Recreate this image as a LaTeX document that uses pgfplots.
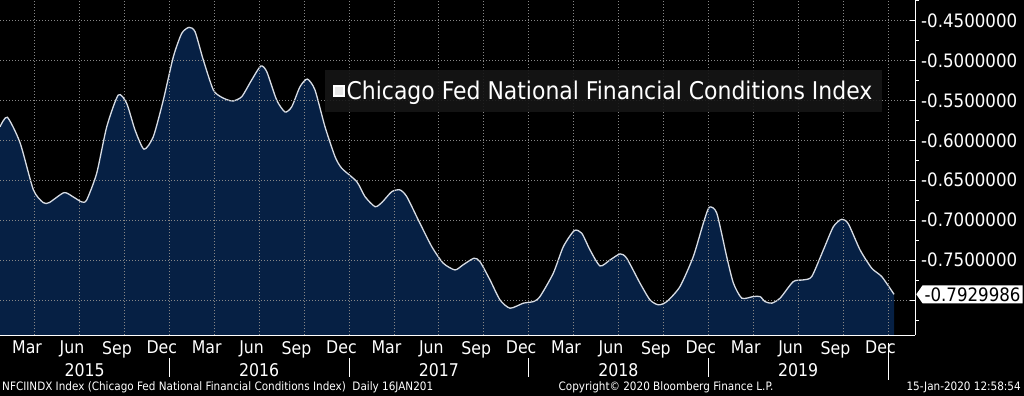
\documentclass[border=0pt]{standalone}
\usepackage{fontspec}
\usepackage{pgfplots}
\usepackage{pgfplotstable}
\pgfplotsset{compat=1.18}
\usetikzlibrary{shapes.symbols}
\newfontfamily\cond{DejaVu Sans Condensed}
\newcommand\tickfont{\cond\fontsize{17.5bp}{20bp}\selectfont}
\newcommand\ytickfont{\cond\fontsize{18.5bp}{21bp}\selectfont}
\newcommand\legfont{\cond\fontsize{24.4bp}{28bp}\selectfont}
\newcommand\footfont{\cond\fontsize{11.6bp}{13bp}\selectfont}
\definecolor{navy}{RGB}{6,32,68}
\definecolor{curve}{RGB}{215,220,228}
\definecolor{gridc}{RGB}{135,135,135}
\definecolor{legbg}{RGB}{22,22,22}
\pgfplotstableread{
x y
0.69 -0.583
1.18 -0.571
2.03 -0.603
2.92 -0.662
3.58 -0.678
3.98 -0.678
4.97 -0.6655
5.59 -0.671
6.15 -0.6772
6.48 -0.6747
7.15 -0.6412
7.82 -0.583
8.59 -0.5431
9.15 -0.5535
9.71 -0.587
10.31 -0.6111
10.93 -0.5954
11.60 -0.5494
12.27 -0.4951
12.83 -0.4658
13.32 -0.4583
13.72 -0.4638
14.27 -0.4992
14.94 -0.5368
15.50 -0.546
16.05 -0.5502
16.28 -0.5506
16.84 -0.5452
17.50 -0.5243
18.11 -0.5068
18.51 -0.5139
19.17 -0.5494
19.73 -0.5644
20.18 -0.5578
20.73 -0.5327
21.22 -0.5231
21.73 -0.5368
22.40 -0.583
23.07 -0.6204
23.52 -0.635
24.52 -0.6517
25.07 -0.6705
25.74 -0.6831
26.19 -0.678
26.86 -0.6643
27.41 -0.6621
27.86 -0.6705
28.63 -0.6997
29.53 -0.7332
30.30 -0.754
31.08 -0.7624
31.62 -0.7561
32.35 -0.7477
32.75 -0.752
33.42 -0.7749
34.09 -0.800
34.76 -0.8104
35.65 -0.8041
36.32 -0.8021
36.76 -0.7958
37.65 -0.7665
38.32 -0.7332
39.05 -0.7131
39.55 -0.7164
40.10 -0.7373
40.77 -0.7574
41.44 -0.7499
42.11 -0.7423
42.55 -0.7477
43.44 -0.779
44.11 -0.800
44.67 -0.8062
45.23 -0.8021
46.11 -0.7833
47.00 -0.7457
47.67 -0.7039
48.07 -0.6838
48.57 -0.6913
49.23 -0.7457
49.68 -0.779
50.24 -0.7978
51.01 -0.7958
51.46 -0.7958
51.79 -0.8021
52.24 -0.8041
52.80 -0.7978
53.68 -0.777
54.35 -0.7749
54.91 -0.7708
55.69 -0.7373
56.36 -0.7081
56.92 -0.6989
57.36 -0.7047
58.14 -0.7373
58.92 -0.7603
59.59 -0.7708
60.41 -0.793
}\nfci
\begin{document}
\begin{tikzpicture}
\path[use as bounding box] (0,-61bp) rectangle (1024bp,335bp);
\fill[black] (0,-61bp) rectangle (1024bp,335bp);
\begin{axis}[
  at={(0,0)}, anchor=south west,
  scale only axis, width=915bp, height=335bp,
  xmin=0.69, xmax=61.81, ymin=-0.844, ymax=-0.424,
  axis x line*=bottom, axis y line*=right,
  axis line style={white, line width=0.8bp},
  ticklabel style={text=white, font=\tickfont},
  xtick={2.5,5.5,8.5,11.5,14.5,17.5,20.5,23.5,26.5,29.5,32.5,35.5,38.5,41.5,44.5,47.5,50.5,53.5,56.5,59.5},
  xticklabels={Mar,Jun,Sep,Dec,Mar,Jun,Sep,Dec,Mar,Jun,Sep,Dec,Mar,Jun,Sep,Dec,Mar,Jun,Sep,Dec},
  xtick style={draw=none},
  xticklabel style={anchor=north, inner sep=0pt, yshift=-6bp},
  minor xtick={1,2,...,61},
  minor x tick style={white, line width=0.6bp},
  minor tick length=3bp,
  extra x ticks={3,6,9,12,15,18,21,24,27,30,33,36,39,42,45,48,51,54,57,60},
  extra x tick labels={},
  extra x tick style={grid=major, major tick length=0pt},
  ytick={-0.80,-0.75,-0.70,-0.65,-0.60,-0.55,-0.50,-0.45},
  yticklabels={{},-0.7500000,-0.7000000,-0.6500000,-0.6000000,-0.5500000,-0.5000000,-0.4500000},
  yticklabel style={anchor=west, inner sep=0pt, xshift=6bp, font=\ytickfont},
  ytick style={white, line width=0.8bp},
  major tick length=5bp,
  minor ytick={-0.825,-0.775,-0.725,-0.675,-0.625,-0.575,-0.525,-0.475,-0.425},
  minor y tick style={white, line width=0.6bp, xshift=4bp},
  ymajorgrids=true,
  major grid style={gridc, line width=0.6bp, dash pattern=on 1bp off 2bp},
  axis on top,
  clip=false,
  legend style={at={(axis description cs:0.660,0.728)}, anchor=center,
    fill=legbg, fill opacity=0.9, text opacity=1, draw=none, text=white,
    font=\legfont, inner xsep=8bp, inner ysep=9bp},
  legend image code/.code={\fill[white] (0bp,-5bp) rectangle (10bp,5bp);},
]
\addplot[draw=none, fill=navy, smooth, tension=0.4, forget plot] table[x=x,y=y] {\nfci} -- (axis cs:60.41,-0.844) -- (axis cs:0.69,-0.844) -- cycle;
\addplot[curve, line width=1.3bp, smooth, tension=0.4] table[x=x,y=y] {\nfci};
\addlegendentry{Chicago Fed National Financial Conditions Index}
% year labels
\node[text=white, font=\tickfont, anchor=center] at ([yshift=-35bp]axis cs:6.35,-0.844) {2015};
\node[text=white, font=\tickfont, anchor=center] at ([yshift=-35bp]axis cs:18,-0.844) {2016};
\node[text=white, font=\tickfont, anchor=center] at ([yshift=-35bp]axis cs:30,-0.844) {2017};
\node[text=white, font=\tickfont, anchor=center] at ([yshift=-35bp]axis cs:42,-0.844) {2018};
\node[text=white, font=\tickfont, anchor=center] at ([yshift=-35bp]axis cs:54,-0.844) {2019};
% year separators
\draw[white, line width=0.7bp] ([yshift=-23bp]axis cs:12,-0.844) -- ([yshift=-42bp]axis cs:12,-0.844);
\draw[white, line width=0.7bp] ([yshift=-23bp]axis cs:24,-0.844) -- ([yshift=-42bp]axis cs:24,-0.844);
\draw[white, line width=0.7bp] ([yshift=-23bp]axis cs:36,-0.844) -- ([yshift=-42bp]axis cs:36,-0.844);
\draw[white, line width=0.7bp] ([yshift=-23bp]axis cs:48,-0.844) -- ([yshift=-42bp]axis cs:48,-0.844);
\draw[white, line width=0.7bp] ([yshift=-8bp]axis cs:60,-0.844) -- ([yshift=-45bp]axis cs:60,-0.844);
% last value box
\node[signal, signal to=west, signal pointer angle=110, fill=white, text=black, font=\ytickfont,
  inner xsep=2bp, inner ysep=2bp, anchor=west] at ([xshift=1bp]axis cs:61.81,-0.793) {-0.7929986};
\end{axis}
\node[text=white, font=\footfont, anchor=west, inner sep=0pt] at (2bp,-52bp) {NFCIINDX Index (Chicago Fed National Financial Conditions Index)\ \ Daily 16JAN201};
\node[text=white, font=\footfont, anchor=center, inner sep=0pt] at (666bp,-52bp) {Copyright© 2020 Bloomberg Finance L.P.};
\node[text=white, font=\footfont, anchor=east, inner sep=0pt] at (1021bp,-52bp) {15-Jan-2020 12:58:54};
\end{tikzpicture}
\end{document}
